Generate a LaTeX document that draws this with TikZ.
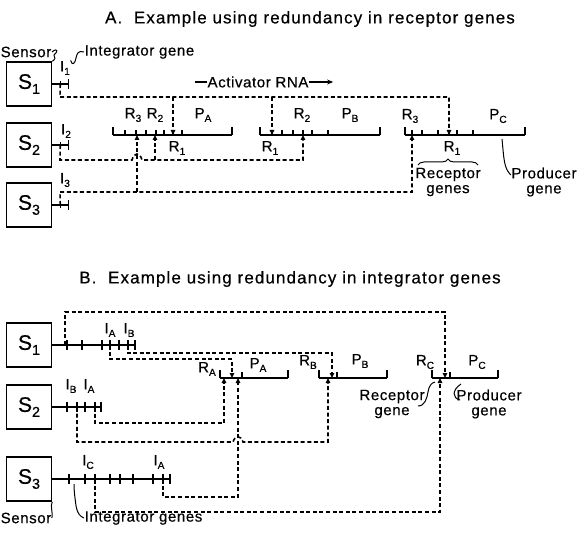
\documentclass[tikz,border=0pt]{standalone}
\usepackage{fontspec}
\usepackage{graphicx}
\setmainfont[LetterSpace=4, FakeBold=0.5]{Liberation Sans}
\usetikzlibrary{arrows.meta,positioning,decorations.pathreplacing}
\newcommand{\gsub}[2]{#1\raisebox{-.45ex}{\scalebox{.68}{#2}}}

\begin{document}
\begin{tikzpicture}[x=1pt, y=-1pt,
  sensor/.style={draw, line width=1.5pt, minimum width=45pt, minimum height=44pt, inner sep=0pt, font=\fontsize{21}{21}\selectfont},
  gene/.style={line width=1.8pt},
  tick/.style={line width=1.3pt},
  sig/.style={line width=1.6pt, dash pattern=on 4pt off 2.6pt},
  sigto/.style={sig, -{Triangle[length=5pt,width=4.4pt]}},
  lab/.style={inner sep=0.5pt, font=\fontsize{15}{15}\selectfont, align=center},
  glab/.style={inner sep=0.5pt, font=\fontsize{15}{15}\selectfont},
  head/.style={font=\fontsize{17}{18}\selectfont\addfontfeatures{LetterSpace=6.5}},
  curl/.style={line width=1pt}]
\useasboundingbox (0,0) rectangle (577,534);

\node[head] (titleA) at (310,19) {A.\ \ Example using redundancy in receptor genes};

\node[sensor] (s1) at (29,84) {\gsub{S}{1}};
\node[sensor] (s2) at (29,145) {\gsub{S}{2}};
\node[sensor] (s3) at (29,205) {\gsub{S}{3}};

\foreach \s in {1,2,3}{
  \draw[gene] (s\s.east) -- ++(16,0) coordinate (end\s);
  \draw[tick] (end\s) ++(0,-5) -- ++(0,10);
  \coordinate (i\s) at ([xshift=8pt]s\s.east);
  \draw[tick] (i\s) ++(0,-3) -- ++(0,6);
}
\node[glab] (li1) at (65,68) {\gsub{I}{1}};
\node[glab] (li2) at (66,131) {\gsub{I}{2}};
\node[glab] (li3) at (65,180) {\gsub{I}{3}};

\node[lab] (sensA) at (26,52) {Sensor};
\node[lab, anchor=west] (integA) at (84,52) {Integrator gene};
\draw[curl] (sensA.east) .. controls (58,47) and (58,52) .. (54,55) .. controls (56,57) and (55,60) .. (s1.north east);
\draw[curl] (integA.west) .. controls (78,50) and (77,54) .. (76,58) .. controls (75,64) and (72,66) .. (li1.north east);

\node[lab] (act) at (258,82) {Activator RNA};
\draw[line width=1.1pt] (act.west) -- ++(-12,0);
\draw[line width=1.1pt, -{Stealth[length=6pt,width=5pt]}] (act.east) -- ++(24,0);

% receptor genes, gene A
\draw[gene] (113,135) -- (232,135);
\foreach \x in {113,232} \draw[tick] (\x,135) -- (\x,127);
\foreach \x in {125,136,146,156,164,173,182} \draw[tick] (\x,135) -- (\x,130);
\coordinate (a-r3) at (137,135);
\coordinate (a-r2) at (155,135);
\coordinate (a-r1) at (173,135);
\node[glab] (la-r3) at (133,115) {\gsub{R}{3}};
\node[glab] (la-r2) at (155,115) {\gsub{R}{2}};
\node[glab] (la-pa) at (203,115) {\gsub{P}{A}};
\node[glab] (la-r1) at (177,148) {\gsub{R}{1}};

% gene B
\draw[gene] (260,135) -- (380,135);
\foreach \x in {260,380} \draw[tick] (\x,135) -- (\x,127);
\foreach \x in {272,282,293,303,312,328} \draw[tick] (\x,135) -- (\x,130);
\coordinate (b-r1) at (272,135);
\coordinate (b-r2) at (303,135);
\node[glab] (lb-r1) at (270,148) {\gsub{R}{1}};
\node[glab] (lb-r2) at (302,115) {\gsub{R}{2}};
\node[glab] (lb-pb) at (350,115) {\gsub{P}{B}};

% gene C
\draw[gene] (405,135) -- (525,135);
\foreach \x in {405,525} \draw[tick] (\x,135) -- (\x,127);
\foreach \x in {412,422,438,449,457,473} \draw[tick] (\x,135) -- (\x,130);
\coordinate (c-r3) at (412,135);
\coordinate (c-r1) at (449,135);
\node[glab] (lc-r3) at (410,116) {\gsub{R}{3}};
\node[glab] (lc-r1) at (452,148) {\gsub{R}{1}};
\node[glab] (lc-pc) at (498,116) {\gsub{P}{C}};

\draw[curl, decorate, decoration={brace, amplitude=6pt}] (418,165) -- (478,165);
\node[lab] (recA) at (448,182) {Receptor\\genes};
\node[lab] (prodA) at (544,182) {Producer\\gene};
\draw[curl] (502,139) .. controls (504,160) and (504,168) .. (prodA.west |- 0,175);

\coordinate (bus1) at (60,97);
\draw[sigto] (i1) -- (bus1) -| (c-r1);
\draw[sigto] (bus1 -| a-r1) -- (a-r1);
\draw[sigto] (bus1 -| b-r1) -- (b-r1);

\coordinate (bus2) at (60,160);
\draw[sigto] (i2) -- (bus2) -- (132,160) .. controls (134,152) and (140,152) .. (142,160) -| (b-r2);
\draw[sigto] (bus2 -| a-r2) -- (a-r2);

\coordinate (bus3) at (60,192);
\draw[sigto] (i3) -- (bus3) -| (c-r3);
\draw[sigto] (bus3 -| a-r3) -- (a-r3);

% part B
\node[head] (titleB) at (290,279) {B.\ \ Example using redundancy in integrator genes};

\node[sensor] (t1) at (29,345) {\gsub{S}{1}};
\node[sensor] (t2) at (29,407) {\gsub{S}{2}};
\node[sensor] (t3) at (29,479) {\gsub{S}{3}};

\draw[gene] (t1.east) -- (135,345);
\foreach \x in {67,82,102,110,119,128,135} \draw[tick] (\x,340) -- (\x,350);
\draw[gene] (t2.east) -- (101,407);
\foreach \x in {67,77,85,95,101} \draw[tick] (\x,402) -- (\x,412);
\draw[gene] (t3.east) -- (170,479);
\foreach \x in {69,85,95,110,120,133,153,163,170} \draw[tick] (\x,474) -- (\x,484);

\node[glab] (l1a) at (110,330) {\gsub{I}{A}};
\node[glab] (l1b) at (129,330) {\gsub{I}{B}};
\node[glab] (l2b) at (71,386) {\gsub{I}{B}};
\node[glab] (l2a) at (89,386) {\gsub{I}{A}};
\node[glab] (l3c) at (88,462) {\gsub{I}{C}};
\node[glab] (l3a) at (159,462) {\gsub{I}{A}};

\coordinate (ic1) at (65,345);
\coordinate (ia1) at (110,345);
\coordinate (ib1) at (128,345);
\coordinate (ib2) at (77,407);
\coordinate (ia2) at (95,407);
\coordinate (ic3) at (95,479);
\coordinate (ia3) at (163,479);

% receptor genes in B
\draw[gene] (220,378) -- (288,378);
\foreach \x in {220,288} \draw[tick] (\x,378) -- (\x,370);
\draw[tick] (242,378) -- (242,372);
\coordinate (ga-2) at (224,378);
\coordinate (ga-1) at (232,378);
\coordinate (ga-3) at (238,378);
\node[glab] (lra) at (207,369) {\gsub{R}{A}};
\node[glab] (lpa) at (258,365) {\gsub{P}{A}};

\draw[gene] (319,378) -- (387,378);
\foreach \x in {319,387} \draw[tick] (\x,378) -- (\x,370);
\draw[tick] (337,378) -- (337,372);
\coordinate (gb-2) at (328,378);
\coordinate (gb-1) at (332,378);
\node[glab] (lrb) at (308,362) {\gsub{R}{B}};
\node[glab] (lpb) at (360,361) {\gsub{P}{B}};

\draw[gene] (432,378) -- (498,378);
\foreach \x in {432,498} \draw[tick] (\x,378) -- (\x,370);
\draw[tick] (450,378) -- (450,372);
\coordinate (gc-3) at (440,378);
\coordinate (gc-1) at (445,378);
\node[glab] (lrc) at (425,362) {\gsub{R}{C}};
\node[glab] (lpc) at (477,362) {\gsub{P}{C}};

\node[lab] (recB) at (392,404) {Receptor\\gene};
\node[lab] (prodB) at (489,404) {Producer\\gene};
\draw[curl] (418,406) .. controls (425,406) and (427,398) .. (428,392) .. controls (429,386) and (431,383) .. (435,382);
\draw[curl] (461,384) .. controls (452,390) and (452,398) .. (460,400);

\draw[sigto] (ic1) -- (65,312) -| (gc-1);
\draw[sigto] (ia1) -- (110,359) -| (ga-1);
\draw[sigto] (ib1) -- (128,353) -| (gb-1);
\draw[sigto] (ia2) -- (95,423) -| (ga-2);
\draw[sigto] (ib2) -- (77,442) -- (233,442) .. controls (235,435) and (241,435) .. (243,442) -| (gb-2);
\draw[sigto] (ia3) -- (163,497) -| (ga-3);
\draw[sigto] (ic3) -- (95,512) -| (gc-3);

\node[lab] (sensB) at (26,518) {Sensor};
\node[lab, anchor=west] (integB) at (84,518) {Integrator genes};
\draw[curl] (sensB.east) .. controls (53,512) and (50,506) .. (t3.south east);
\draw[curl] (integB.west) .. controls (76,515) and (76,505) .. (75,498) .. controls (74,490) and (74,486) .. (74,484);
\end{tikzpicture}
\end{document}
